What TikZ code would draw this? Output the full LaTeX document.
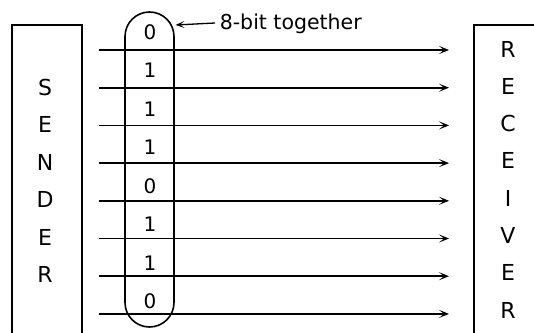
\documentclass[tikz,border=0pt]{standalone}
\usepackage{fontspec}
\setmainfont{DejaVu Sans}
\usetikzlibrary{arrows.meta}
\begin{document}
\begin{tikzpicture}[x=1pt,y=-1pt,line width=1.6pt,
  sig/.style={-{Stealth[length=10pt,width=8pt,inset=5pt]}},
  ltr/.style={font=\fontsize{22}{24}\selectfont,inner sep=0pt},
  bit/.style={font=\fontsize{20}{22}\selectfont,inner sep=0pt},
  note/.style={font=\fontsize{20.5}{24}\selectfont,inner sep=0pt,anchor=west}]
\useasboundingbox (0,0) rectangle (534,332);
% sender and receiver boxes (open at the bottom / right)
\draw (12,340) -- (12,25) -- (82,25) -- (82,340);
\draw (474,340) -- (474,25) -- (540,25);
% capsule grouping the 8 bits
\node[draw,rounded corners=24.5pt,minimum width=49pt,minimum height=315pt,inner sep=0pt] (cap) at (149.5,169.5) {};
% data lines
\foreach \i in {0,...,7}{
  \coordinate (s\i) at (99,{50+37.7*\i});
  \coordinate (r\i) at (449,{50+37.7*\i});
  \draw[sig] (s\i) -- (r\i);
}
% bits
\foreach \b [count=\i from 0] in {0,1,1,1,0,1,1,0}{
  \node[bit] (b\i) at (150,{32+38.5*\i}) {\b};
}
% sender letters
\foreach \l [count=\i from 0] in {S,E,N,D,E,R}{
  \node[ltr] (sl\i) at (45,{87.5+37.4*\i}) {\l};
}
% receiver letters
\foreach \l [count=\i from 0] in {R,E,C,E,I,V,E,R}{
  \node[ltr] (rl\i) at (508,{49+37.3*\i}) {\l};
}
% annotation
\node[note] (lab) at (219,24) {8-bit together};
\coordinate (capr) at (175.5,25);
\draw[-{Stealth[length=9pt,width=7pt,inset=4.5pt]},line width=1.3pt] ([xshift=-4pt,yshift=1pt]lab.west) -- (capr);
\end{tikzpicture}
\end{document}
